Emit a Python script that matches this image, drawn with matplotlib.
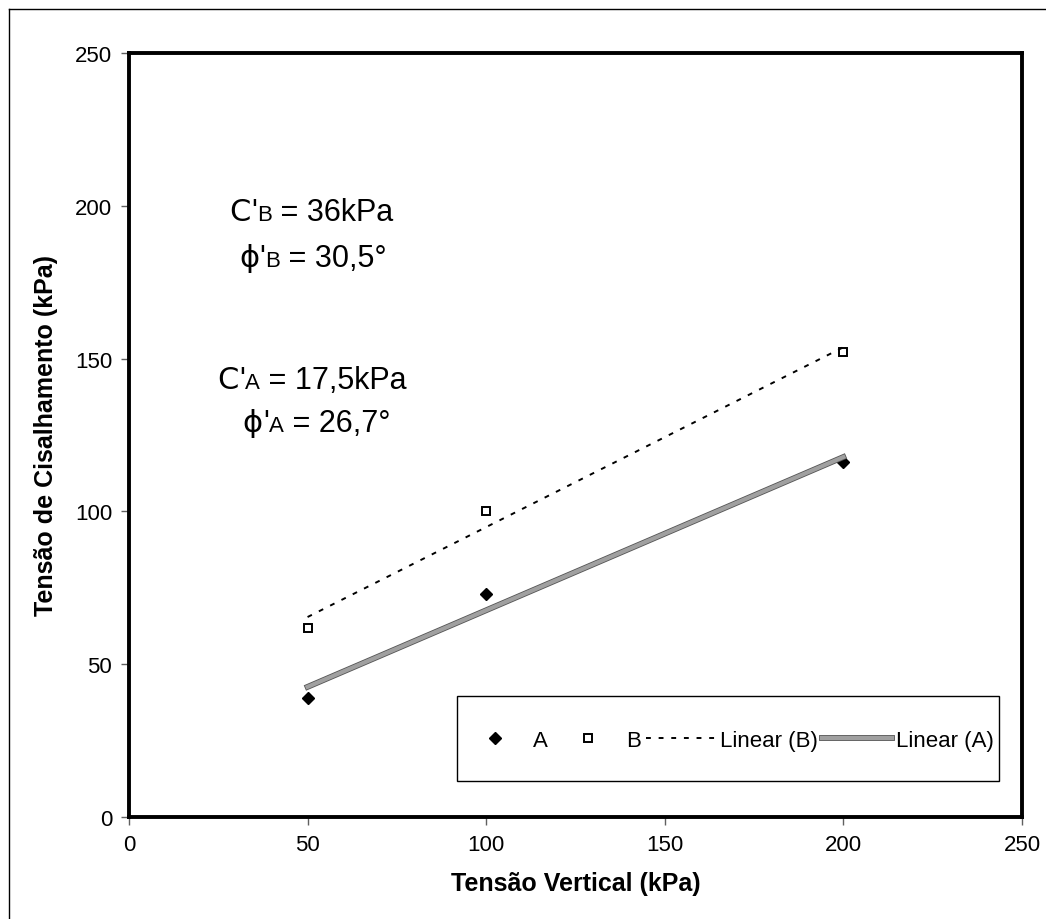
import numpy as np
import matplotlib.pyplot as plt
import matplotlib.patheffects as pe
from matplotlib.offsetbox import TextArea, HPacker, AnnotationBbox
from matplotlib.lines import Line2D
from matplotlib.patches import Rectangle

plt.rcParams['font.family'] = ['Liberation Sans', 'DejaVu Sans']

# dados do ensaio de cisalhamento direto
tensao_vertical = [50, 100, 200]
cis_A = [39, 73, 116]
cis_B = [62, 100, 152]

# ajuste linear (linha de tendencia)
pA = np.polyfit(tensao_vertical, cis_A, 1)
pB = np.polyfit(tensao_vertical, cis_B, 1)
x_fit = np.array([min(tensao_vertical), max(tensao_vertical)])

fig = plt.figure(figsize=(10.46, 9.2), dpi=100)
ax = fig.add_axes([0.1233, 0.1109, 0.8537, 0.8304])

# borda externa do grafico
fig.add_artist(Line2D([9/1046, 9/1046], [0, 1 - 10/920], transform=fig.transFigure, color='black', lw=1))
fig.add_artist(Line2D([9/1046, 1], [1 - 10/920, 1 - 10/920], transform=fig.transFigure, color='black', lw=1))

ax.plot(tensao_vertical, cis_A, linestyle='none', marker='D', markersize=6,
        color='black', label='A')
ax.plot(tensao_vertical, cis_B, linestyle='none', marker='s', markersize=5.5,
        markerfacecolor='white', markeredgecolor='black', markeredgewidth=1.4, label='B')
ax.plot(x_fit, np.polyval(pB, x_fit), color='black', lw=1.4, dashes=(2.5, 4),
        label='Linear (B)')
ax.plot(x_fit, np.polyval(pA, x_fit), color='#a0a0a0', lw=3,
        path_effects=[pe.Stroke(linewidth=4.2, foreground='#555555'), pe.Normal()],
        label='Linear (A)')

ax.set_xlim(0, 250)
ax.set_ylim(0, 250)
ax.set_xticks(range(0, 251, 50))
ax.set_yticks(range(0, 251, 50))
ax.tick_params(direction='out', length=6, width=1, color='#606060', labelsize=16, pad=6)
for s in ax.spines.values():
    s.set_linewidth(2.8)

ax.set_xlabel('Tensão Vertical (kPa)', fontsize=18, fontweight='bold', labelpad=12)
ax.set_ylabel('Tensão de Cisalhamento (kPa)', fontsize=18, fontweight='bold', labelpad=12)


# textos com os parametros (letra do indice menor, na linha de base)
def parametro(simbolo, indice, resto, x, y):
    partes = [TextArea(simbolo, textprops=dict(fontsize=22, family=['DejaVu Sans'])),
              TextArea("'", textprops=dict(fontsize=22)),
              TextArea(indice, textprops=dict(fontsize=16)),
              TextArea(' = ' + resto, textprops=dict(fontsize=22))]
    caixa = HPacker(children=partes, align='baseline', pad=0, sep=0)
    ab = AnnotationBbox(caixa, (x, y), xycoords='data', frameon=False, pad=0)
    ax.add_artist(ab)


parametro('C', 'B', '36kPa', 51, 198)
parametro('\u03d5', 'B', '30,5°', 51.5, 183)
parametro('C', 'A', '17,5kPa', 51.2, 143)
parametro('\u03d5', 'A', '26,7°', 52.5, 129)

# caixa da legenda desenhada a parte (texto encostado na direita)
ax.add_patch(Rectangle((0.367, 0.047), 0.607, 0.111, transform=ax.transAxes,
                       facecolor='white', edgecolor='black', lw=1, zorder=4))
leg = ax.legend(ncol=4, loc='center left', bbox_to_anchor=(0.3707, 0.1),
                fontsize=16, frameon=False, borderpad=0, borderaxespad=0,
                handlelength=3.15, handletextpad=0.15, columnspacing=0.22)
leg.set_zorder(5)

fig.savefig('out.png', dpi=100)
